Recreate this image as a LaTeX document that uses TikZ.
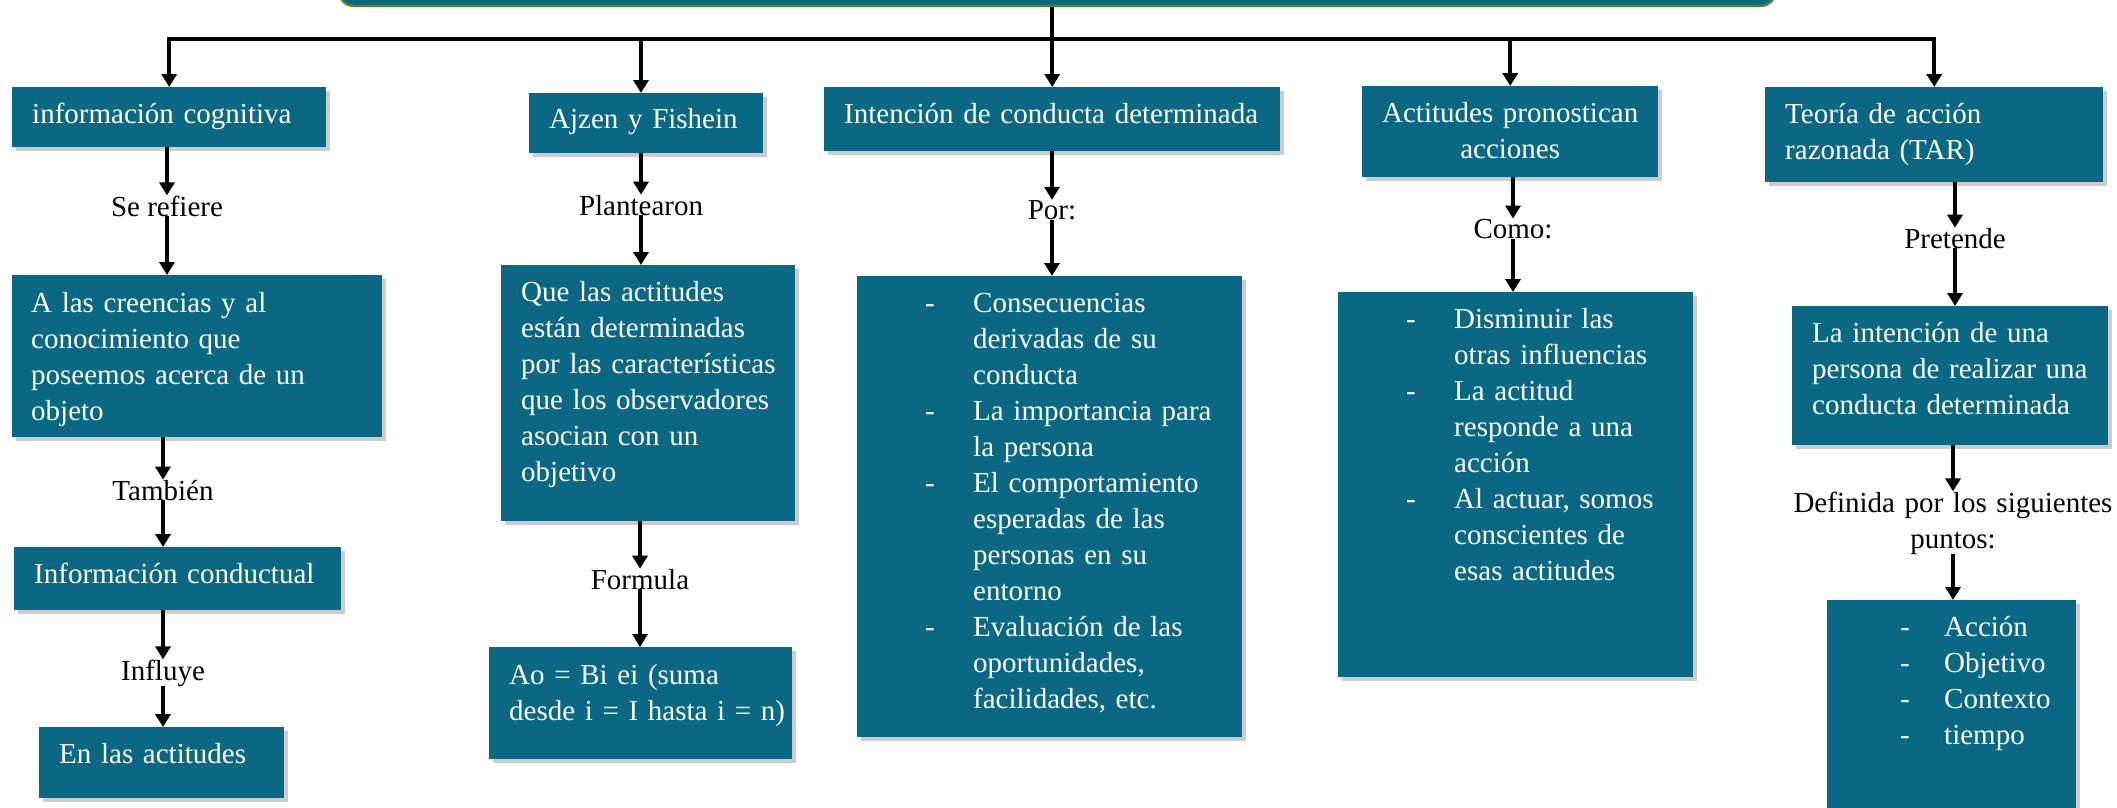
\documentclass[tikz,border=0pt]{standalone}
\usepackage{fontspec}
\setmainfont{Liberation Serif}
\usetikzlibrary{arrows.meta,shadows}
\definecolor{azul}{RGB}{11,104,132}
\definecolor{verde}{RGB}{84,130,53}
\newcommand{\guion}[1][48pt]{\leavevmode\llap{\makebox[#1][l]{-}}}

\begin{document}
\begin{tikzpicture}[x=1pt, y=-1pt,
    caja/.style={fill=azul, text=white, anchor=north west, inner sep=0pt, align=left,
      font=\fontsize{29pt}{36pt}\selectfont,
      drop shadow={shadow xshift=4pt, shadow yshift=-4pt, opacity=.4}},
    etiqueta/.style={inner sep=0pt, anchor=base, font=\fontsize{29pt}{36pt}\selectfont},
    flecha/.style={-{Triangle[width=15pt,length=13pt]}, line width=3.5pt}]
  \useasboundingbox (0,0) rectangle (2117,807);

  % titulo
  \node[fill=azul, draw=verde, line width=2.5pt, rounded corners=14pt, anchor=south west,
    minimum width=1436pt, minimum height=80pt, inner sep=0pt] (titulo) at (338,7) {};
  \coordinate (bus) at (0,39);

  % primera fila
  \node[caja, text width=314pt, text height=36pt, text depth=24pt] (cognitiva) at (12,87) {\leftskip=20pt\relax información cognitiva\par};
  \node[caja, text width=234pt, text height=35pt, text depth=25pt] (ajzen) at (529,93) {\leftskip=20pt\relax Ajzen y Fishein\par};
  \node[caja, text width=456pt, text height=36pt, text depth=28pt] (intencion) at (824,87) {\leftskip=20pt\relax Intención de conducta determinada\par};
  \node[caja, align=center, text width=296pt, text height=36pt, text depth=55pt] (actitudes) at (1362,86) {Actitudes pronostican\\acciones};
  \node[caja, text width=338pt, text height=36pt, text depth=59pt] (teoria) at (1765,87) {\leftskip=20pt\relax Teoría de acción\\razonada (TAR)\par};

  % informacion cognitiva
  \node[etiqueta] (serefiere) at (167,216) {Se refiere};
  \node[caja, text width=370pt, text height=37pt, text depth=125pt] (creencias) at (12,275) {\leftskip=19pt\relax A las creencias y al\\conocimiento que\\poseemos acerca de un\\objeto\par};
  \node[etiqueta] (tambien) at (163,500) {También};
  \node[caja, text width=327pt, text height=36pt, text depth=27pt] (conductual) at (14,547) {\leftskip=20pt\relax Información conductual\par};
  \node[etiqueta] (influye) at (163,680) {Influye};
  \node[caja, text width=245pt, text height=36pt, text depth=35pt] (enlas) at (39,727) {\leftskip=20pt\relax En las actitudes\par};

  % ajzen y fishein
  \node[etiqueta] (plantearon) at (641,215) {Plantearon};
  \node[caja, text width=294pt, text height=36pt, text depth=220pt] (que) at (501,265) {\leftskip=20pt\relax Que las actitudes\\están determinadas\\por las características\\que los observadores\\asocian con un\\objetivo\par};
  \node[etiqueta] (formula) at (640,589) {Formula};
  \node[caja, text width=303pt, text height=37pt, text depth=75pt] (ao) at (489,647) {\leftskip=20pt\relax Ao = Bi ei (suma\\desde i = I hasta i = n)\par};

  % intencion de conducta
  \node[etiqueta] (por) at (1052,219) {Por:};
  \node[caja, text width=385pt, text height=36pt, text depth=425pt] (consecuencias) at (857,276) {\leftskip=116pt\relax \guion Consecuencias\\derivadas de su\\conducta\\\guion La importancia para\\la persona\\\guion El comportamiento\\esperadas de las\\personas en su\\entorno\\\guion Evaluación de las\\oportunidades,\\facilidades, etc.\par};

  % actitudes pronostican
  \node[etiqueta] (como) at (1513,238) {Como:};
  \node[caja, text width=355pt, text height=36pt, text depth=349pt] (disminuir) at (1338,292) {\leftskip=116pt\relax \guion Disminuir las\\otras influencias\\\guion La actitud\\responde a una\\acción\\\guion Al actuar, somos\\conscientes de\\esas actitudes\par};

  % teoria de accion razonada
  \node[etiqueta] (pretende) at (1955,248) {Pretende};
  \node[caja, text width=316pt, text height=36pt, text depth=103pt] (intencion2) at (1792,306) {\leftskip=20pt\relax La intención de una\\persona de realizar una\\conducta determinada\par};
  \node[etiqueta, align=center, text width=340pt] (definida) at (1953,512) {Definida por los siguientes\\puntos:};
  \node[caja, text width=249pt, text height=36pt, text depth=185pt] (puntos) at (1827,600) {\leftskip=117pt\relax \guion[44pt]Acción\\\guion[44pt]Objetivo\\\guion[44pt]Contexto\\\guion[44pt]tiempo\par};

  % conectores
  \draw[flecha] (titulo.south -| intencion) -- (intencion);
  \draw[flecha] (intencion |- bus) -| (cognitiva);
  \draw[flecha] (intencion |- bus) -| (teoria);
  \draw[flecha] (bus -| plantearon) -- (ajzen.north -| plantearon);
  \draw[flecha] (actitudes |- bus) -- (actitudes);

  \draw[flecha] (cognitiva.south -| serefiere) -- (serefiere);
  \draw[flecha] (serefiere) -- (serefiere |- creencias.north);
  \draw[flecha] (creencias.south -| tambien) -- (tambien);
  \draw[flecha] (tambien) -- (tambien |- conductual.north);
  \draw[flecha] (conductual.south -| influye) -- (influye);
  \draw[flecha] (influye) -- (influye |- enlas.north);

  \draw[flecha] (ajzen.south -| plantearon) -- (plantearon);
  \draw[flecha] (plantearon) -- (plantearon |- que.north);
  \draw[flecha] (que.south -| formula) -- (formula);
  \draw[flecha] (formula) -- (formula |- ao.north);

  \draw[flecha] (intencion.south -| por) -- (por);
  \draw[flecha] (por) -- (por |- consecuencias.north);

  \draw[flecha] (actitudes.south -| como) -- (como);
  \draw[flecha] (como) -- (como |- disminuir.north);

  \draw[flecha] (teoria.south -| pretende) -- (pretende);
  \draw[flecha] (pretende) -- (pretende |- intencion2.north);
  \draw[flecha] (intencion2.south -| definida) -- (definida);
  \draw[flecha] (definida) -- (definida |- puntos.north);
\end{tikzpicture}
\end{document}
